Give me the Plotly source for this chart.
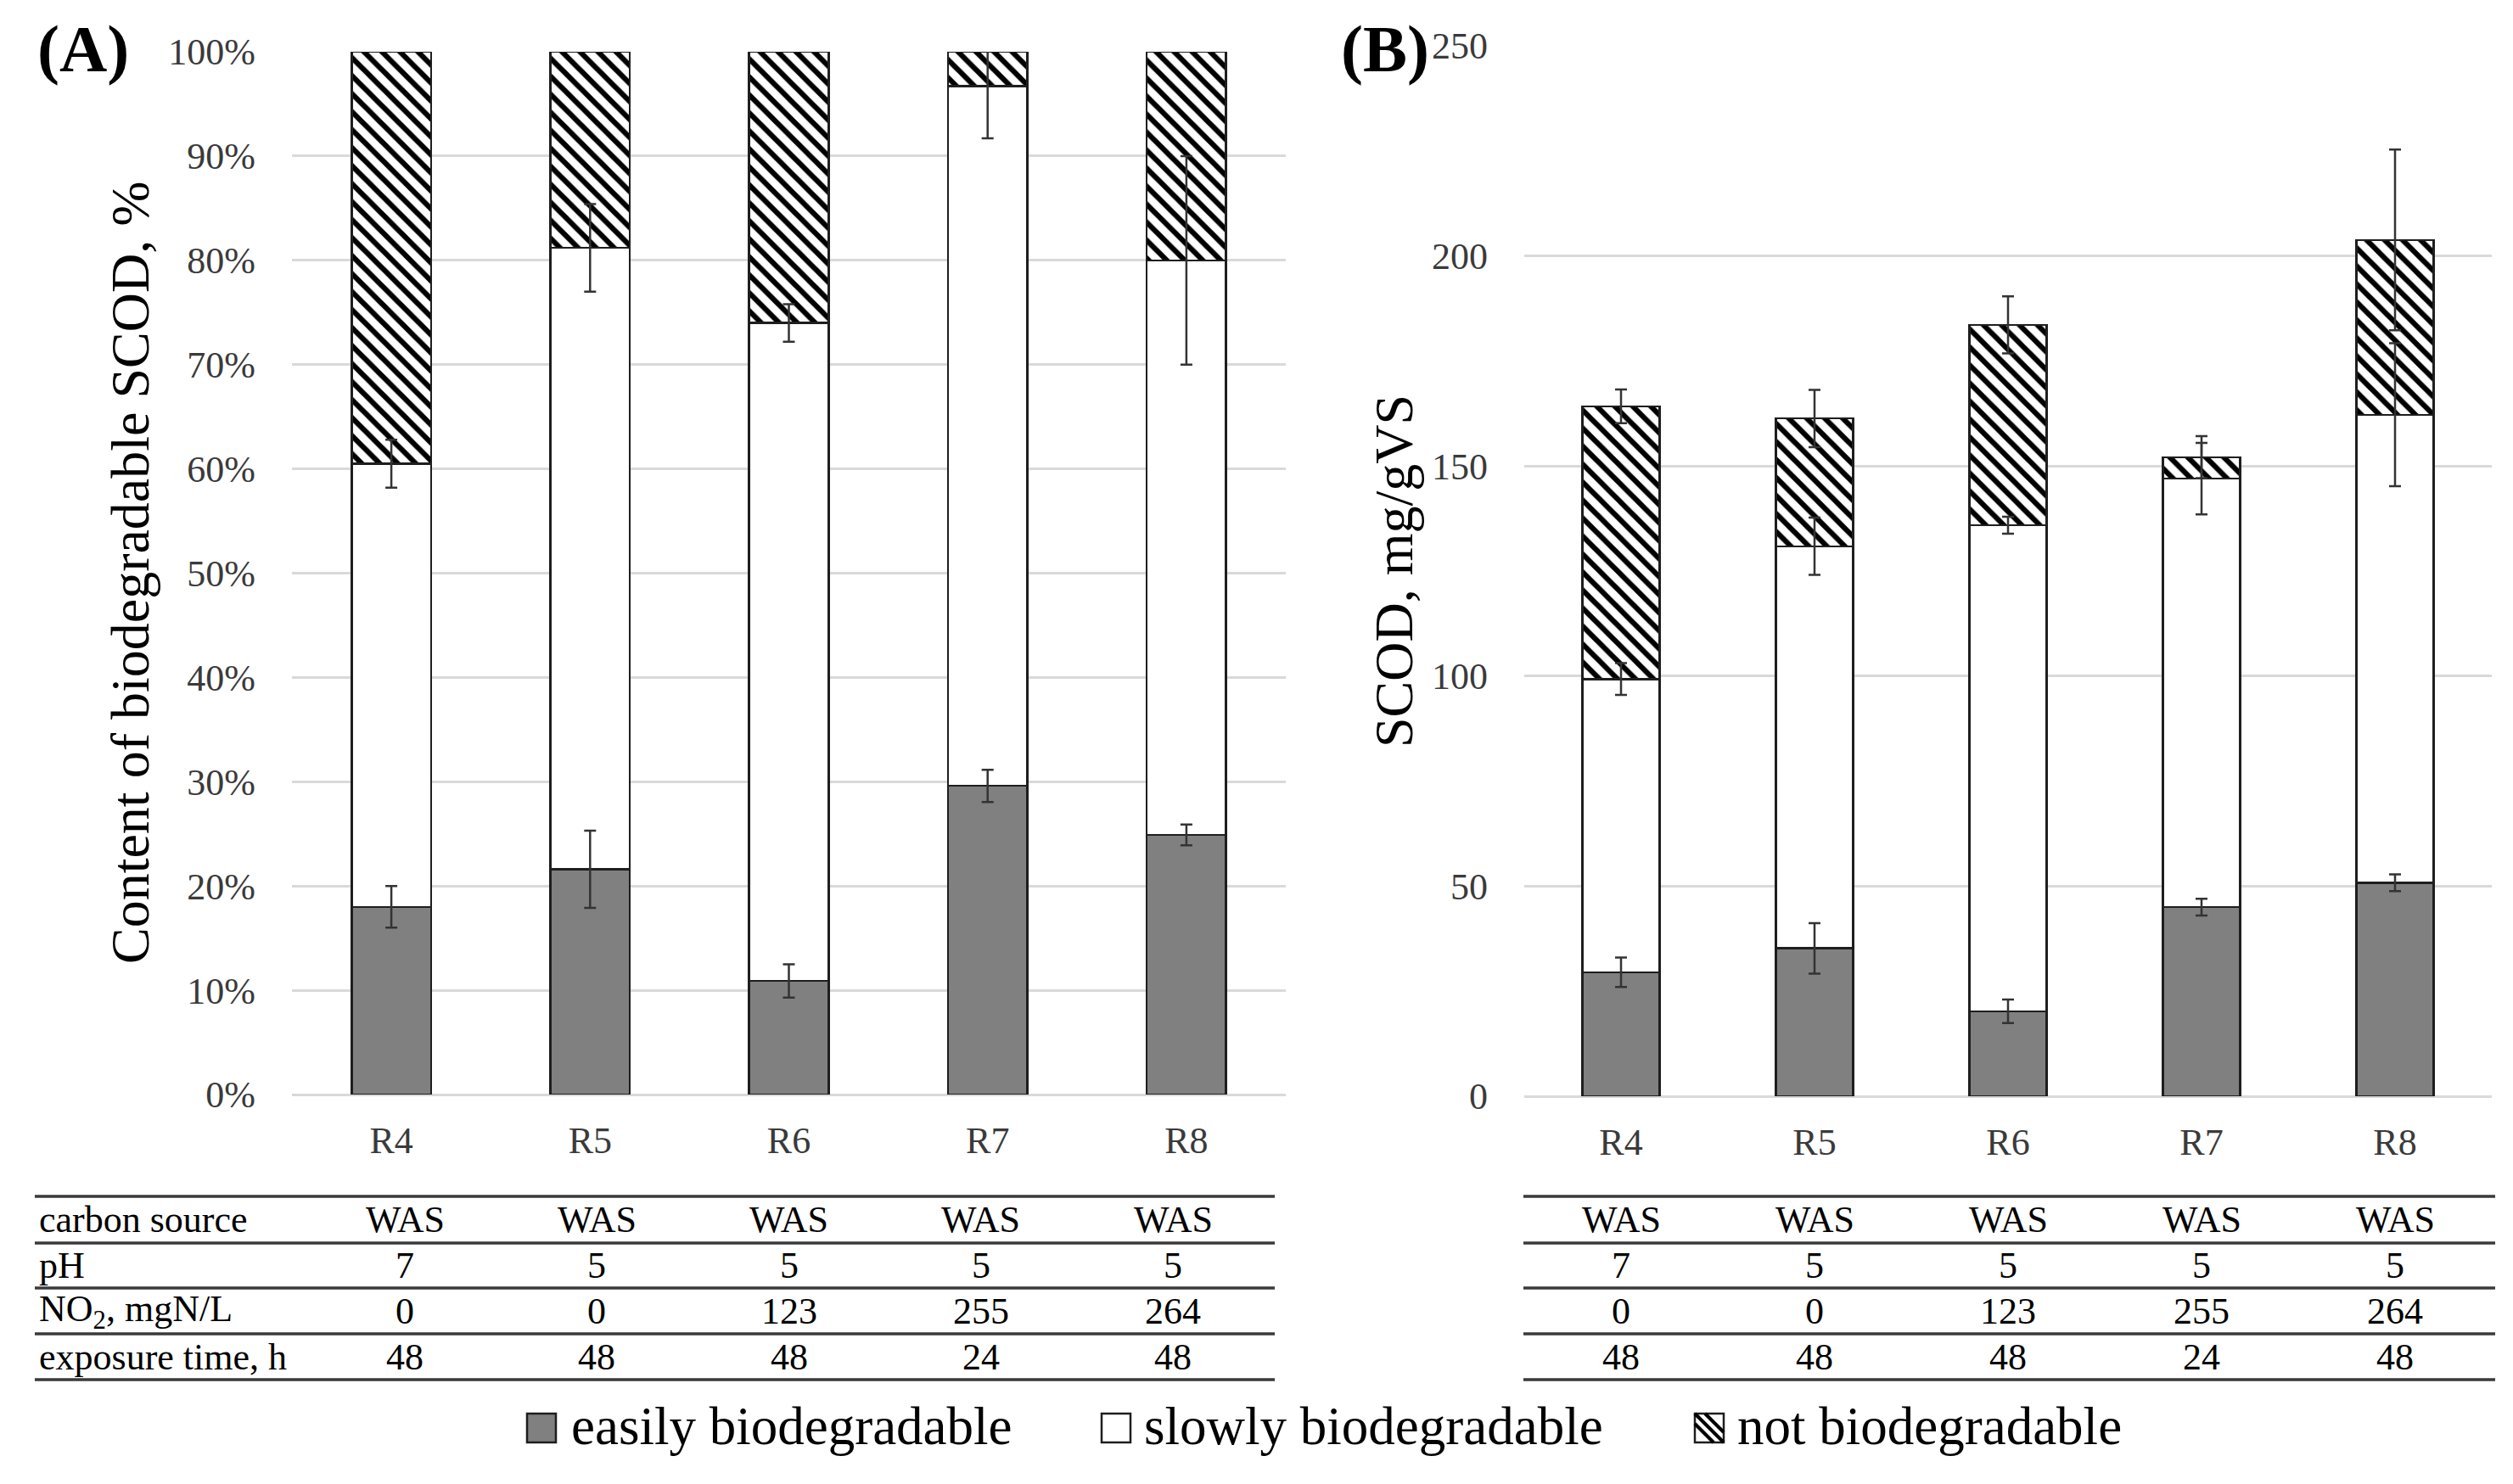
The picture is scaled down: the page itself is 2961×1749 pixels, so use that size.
import plotly.graph_objects as go

# page body has an 8px margin; size the figure so it fits the window exactly
WIN_W, WIN_H = 2961, 1749
PAD = 8
W, H = WIN_W - 2 * PAD, WIN_H - 2 * PAD
FONT = "Liberation Serif"

# ---------------- data ----------------
categories = ["R4", "R5", "R6", "R7", "R8"]
series_names = ["easily biodegradable", "slowly biodegradable", "not biodegradable"]

# Panel A: content of biodegradable SCOD, %
a_easily = [18.0, 21.6, 10.9, 29.6, 24.9]
a_easily_err = [2.0, 3.7, 1.6, 1.55, 1.0]
a_slowly = [42.5, 59.6, 63.1, 67.1, 55.1]
a_slowly_err = [2.3, 4.2, 1.8, 5.0, 10.0]
a_not = [39.5, 18.8, 26.0, 3.3, 20.0]

# Panel B: SCOD, mg/gVS
b_easily = [29.5, 35.2, 20.2, 45.0, 50.8]
b_easily_err = [3.5, 6.0, 2.8, 2.0, 2.0]
b_slowly = [69.8, 95.7, 115.7, 102.0, 111.4]
b_slowly_err = [3.8, 6.8, 2.0, 8.5, 17.0]
b_not = [64.9, 30.4, 47.7, 5.1, 41.6]
b_not_err = [4.0, 6.8, 6.8, 5.0, 21.5]

# Table below the charts
table_row_labels = ["carbon source", "pH", "NO<sub>2</sub>, mgN/L", "exposure time, h"]
carbon_source = ["WAS", "WAS", "WAS", "WAS", "WAS"]
ph_values = ["7", "5", "5", "5", "5"]
no2_values = ["0", "0", "123", "255", "264"]
exposure_values = ["48", "48", "48", "24", "48"]
table_values = [carbon_source, ph_values, no2_values, exposure_values]

# ---------------- helpers (window pixel -> paper fraction) ----------------
def px(x):
    return (x - PAD) / W

def py(y):
    return 1 - (y - PAD) / H

def cumsum(*cols):
    out = []
    for vals in zip(*cols):
        out.append(sum(vals))
    return out

GRAY = "#808080"
EDGE = "#1e1e1e"
ERRC = "#333333"
TICKC = "#3a3a3a"

fig = go.Figure()

def add_panel(xa, ya, easily, slowly, notb):
    fig.add_trace(go.Bar(x=categories, y=easily, name=series_names[0],
                         marker=dict(color=GRAY, line=dict(color=EDGE, width=2.5)),
                         xaxis=xa, yaxis=ya, showlegend=False))
    fig.add_trace(go.Bar(x=categories, y=slowly, name=series_names[1],
                         marker=dict(color="white", line=dict(color=EDGE, width=2.5)),
                         xaxis=xa, yaxis=ya, showlegend=False))
    fig.add_trace(go.Bar(x=categories, y=notb, name=series_names[2],
                         marker=dict(color="white", line=dict(color=EDGE, width=2.5),
                                     pattern=dict(shape="\\", fgcolor="black", fgopacity=1,
                                                  size=15, solidity=0.42,
                                                  fillmode="overlay")),
                         xaxis=xa, yaxis=ya, showlegend=False))

def add_err(xa, ya, tops, err):
    fig.add_trace(go.Scatter(x=categories, y=tops, mode="markers",
                             marker=dict(size=1, color="rgba(0,0,0,0)"),
                             error_y=dict(type="data", array=err, color=ERRC,
                                          thickness=2.5, width=7),
                             xaxis=xa, yaxis=ya, showlegend=False, hoverinfo="skip"))

add_panel("x", "y", a_easily, a_slowly, a_not)
add_panel("x2", "y2", b_easily, b_slowly, b_not)

add_err("x", "y", a_easily, a_easily_err)
add_err("x", "y", cumsum(a_easily, a_slowly), a_slowly_err)
add_err("x2", "y2", b_easily, b_easily_err)
add_err("x2", "y2", cumsum(b_easily, b_slowly), b_slowly_err)
add_err("x2", "y2", cumsum(b_easily, b_slowly, b_not), b_not_err)

axis_x = dict(showgrid=False, showline=False, zeroline=False, ticks="",
              tickfont=dict(family=FONT, size=44, color=TICKC), automargin=False,
              ticklabelstandoff=24,
              categoryorder="array", categoryarray=categories, fixedrange=True)
axis_y = dict(showgrid=True, gridcolor="#d9d9d9", gridwidth=3, showline=False,
              zeroline=True, zerolinecolor="#d9d9d9", zerolinewidth=3, ticks="",
              automargin=False,
              tickfont=dict(family=FONT, size=44, color=TICKC), ticklabelstandoff=42)

fig.update_layout(
    width=W, height=H,
    margin=dict(l=0, r=0, t=0, b=0, autoexpand=False),
    paper_bgcolor="white", plot_bgcolor="white",
    barmode="stack", bargap=0.6,
    showlegend=False,
    font=dict(family=FONT, color="black"),
    xaxis=dict(axis_x, domain=[px(344), px(1515)], anchor="y"),
    yaxis=dict(axis_y, domain=[py(1290), py(61)], range=[0, 100], dtick=10,
               ticksuffix="%", anchor="x"),
    xaxis2=dict(axis_x, domain=[px(1796), px(2936)], anchor="y2"),
    yaxis2=dict(axis_y, domain=[py(1292), py(54)], range=[0, 250], dtick=50,
                anchor="x2"),
)

ann = []
shapes = []

# panel labels
ann.append(dict(text="<b>(A)</b>", x=px(42), y=py(57), xref="paper", yref="paper",
                xanchor="left", yanchor="middle", showarrow=False,
                font=dict(family=FONT, size=78, color="black")))
ann.append(dict(text="<b>(B)</b>", x=px(1578), y=py(57), xref="paper", yref="paper",
                xanchor="left", yanchor="middle", showarrow=False,
                font=dict(family=FONT, size=78, color="black")))

# y-axis titles
ann.append(dict(text="Content of biodegradable SCOD, %", x=px(154), y=py(675),
                xref="paper", yref="paper", xanchor="center", yanchor="middle",
                textangle=-90, showarrow=False,
                font=dict(family=FONT, size=64, color="black")))
ann.append(dict(text="SCOD, mg/gVS", x=px(1643), y=py(673),
                xref="paper", yref="paper", xanchor="center", yanchor="middle",
                textangle=-90, showarrow=False,
                font=dict(family=FONT, size=64, color="black")))

# table lines
line_ys = [1410, 1465, 1518, 1572, 1626]
for ly in line_ys:
    shapes.append(dict(type="line", xref="paper", yref="paper",
                       x0=px(41), x1=px(1502), y0=py(ly), y1=py(ly),
                       line=dict(color="#3a3a3a", width=3.5)))
    shapes.append(dict(type="line", xref="paper", yref="paper",
                       x0=px(1795), x1=px(2940), y0=py(ly), y1=py(ly),
                       line=dict(color="#3a3a3a", width=3.5)))

row_centers = [(line_ys[i] + line_ys[i + 1]) / 2 for i in range(4)]
col_start_a, col_w_a = 364, 226.25
for r, label in enumerate(table_row_labels):
    ann.append(dict(text=label, x=px(44), y=py(row_centers[r]), xref="paper", yref="paper",
                    xanchor="left", yanchor="middle", showarrow=False,
                    font=dict(family=FONT, size=44, color="black")))
    for c, val in enumerate(table_values[r]):
        ann.append(dict(text=val, x=px(col_start_a + col_w_a * (c + 0.5)), y=py(row_centers[r]),
                        xref="paper", yref="paper", xanchor="center", yanchor="middle",
                        showarrow=False, font=dict(family=FONT, size=44, color="black")))
        ann.append(dict(text=val, x=categories[c], y=py(row_centers[r]),
                        xref="x2", yref="paper", xanchor="center", yanchor="middle",
                        showarrow=False, font=dict(family=FONT, size=44, color="black")))

# custom legend
leg_y0, leg_y1 = 1666, 1700
leg_items = [(621, 671, GRAY), (1298, 1346, "white"), (1997, 2045, "hatch")]
for (sx, tx, fill), name in zip(leg_items, series_names):
    sx1 = sx + 34
    shapes.append(dict(type="rect", xref="paper", yref="paper",
                       x0=px(sx), x1=px(sx1), y0=py(leg_y1), y1=py(leg_y0),
                       fillcolor=GRAY if fill == GRAY else "white",
                       line=dict(color=EDGE, width=2.5)))
    if fill == "hatch":
        for d in (-12, 0, 12):
            if d >= 0:
                xa0, ya0, xa1, ya1 = sx + d, leg_y0, sx1, leg_y1 - d
            else:
                xa0, ya0, xa1, ya1 = sx, leg_y0 - d, sx1 + d, leg_y1
            shapes.append(dict(type="line", xref="paper", yref="paper",
                               x0=px(xa0), y0=py(ya0), x1=px(xa1), y1=py(ya1),
                               line=dict(color="black", width=4)))
    ann.append(dict(text=name, x=px(tx), y=py((leg_y0 + leg_y1) / 2 - 2),
                    xref="paper", yref="paper", xanchor="left", yanchor="middle",
                    showarrow=False, font=dict(family=FONT, size=63, color="black")))

fig.update_layout(annotations=ann, shapes=shapes)
fig.write_html("out.html")
